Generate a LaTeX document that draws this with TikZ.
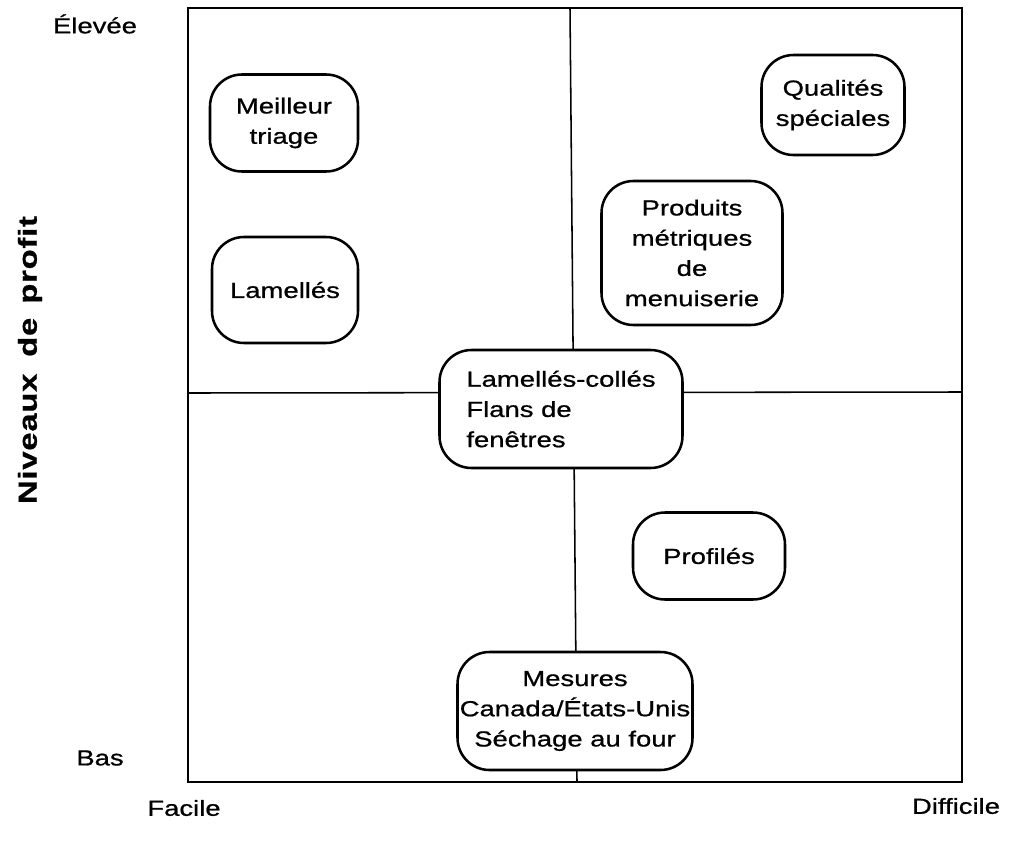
\documentclass[tikz,border=0pt]{standalone}
\usepackage{fontspec}
\setmainfont{Liberation Sans}[FakeStretch=1.26, FakeBold=0.8]
\usetikzlibrary{positioning}

\tikzset{
  every node/.style={font=\fontsize{15.5}{21.5}\selectfont},
  choix/.style={draw, line width=1.8pt, rounded corners=0.8cm, fill=white, align=center, inner sep=1pt},
  axe/.style={line width=1.1pt},
}

\begin{document}
\begin{tikzpicture}[x=0.025cm, y=-0.025cm]
  \useasboundingbox (0,0) rectangle (1020,842);
  \draw[line width=2.1pt] (188,8) rectangle (962,782);
  \draw[axe] (570,8) -- (577,782);
  \draw[axe] (188,393) -- (962,392);

  \node[choix, minimum width=148*0.025cm, minimum height=97*0.025cm] (triage) at (284,123) {Meilleur\\triage};
  \node[choix, minimum width=146*0.025cm, minimum height=106*0.025cm] (lamelles) at (285,290) {Lamellés};
  \node[choix, minimum width=143*0.025cm, minimum height=100*0.025cm] (qualites) at (833,105) {Qualités\\spéciales};
  \node[choix, minimum width=181*0.025cm, minimum height=144*0.025cm] (produits) at (692,253) {Produits\\métriques\\de\\menuiserie};
  \node[choix, align=left, minimum width=243*0.025cm, minimum height=118*0.025cm] (colles) at (561,409) {Lamellés-collés\\Flans de\\fenêtres};
  \node[choix, minimum width=152*0.025cm, minimum height=87*0.025cm] (profiles) at (709,556) {Profilés};
  \node[choix, minimum width=235*0.025cm, minimum height=118*0.025cm] (mesures) at (575,711) {Mesures\\Canada/États-Unis\\Séchage au four};

  \node (elevee) at (95,24) {Élevée};
  \node (bas) at (100,758) {Bas};
  \node (facile) at (184,808) {Facile};
  \node (difficile) at (956,806) {Difficile};
  \node[rotate=90, font=\fontsize{18.5}{21}\selectfont\bfseries\addfontfeature{LetterSpace=3}] (profit) at (30,360) {Niveaux\hspace{12pt}de\hspace{10pt}profit};
\end{tikzpicture}
\end{document}
